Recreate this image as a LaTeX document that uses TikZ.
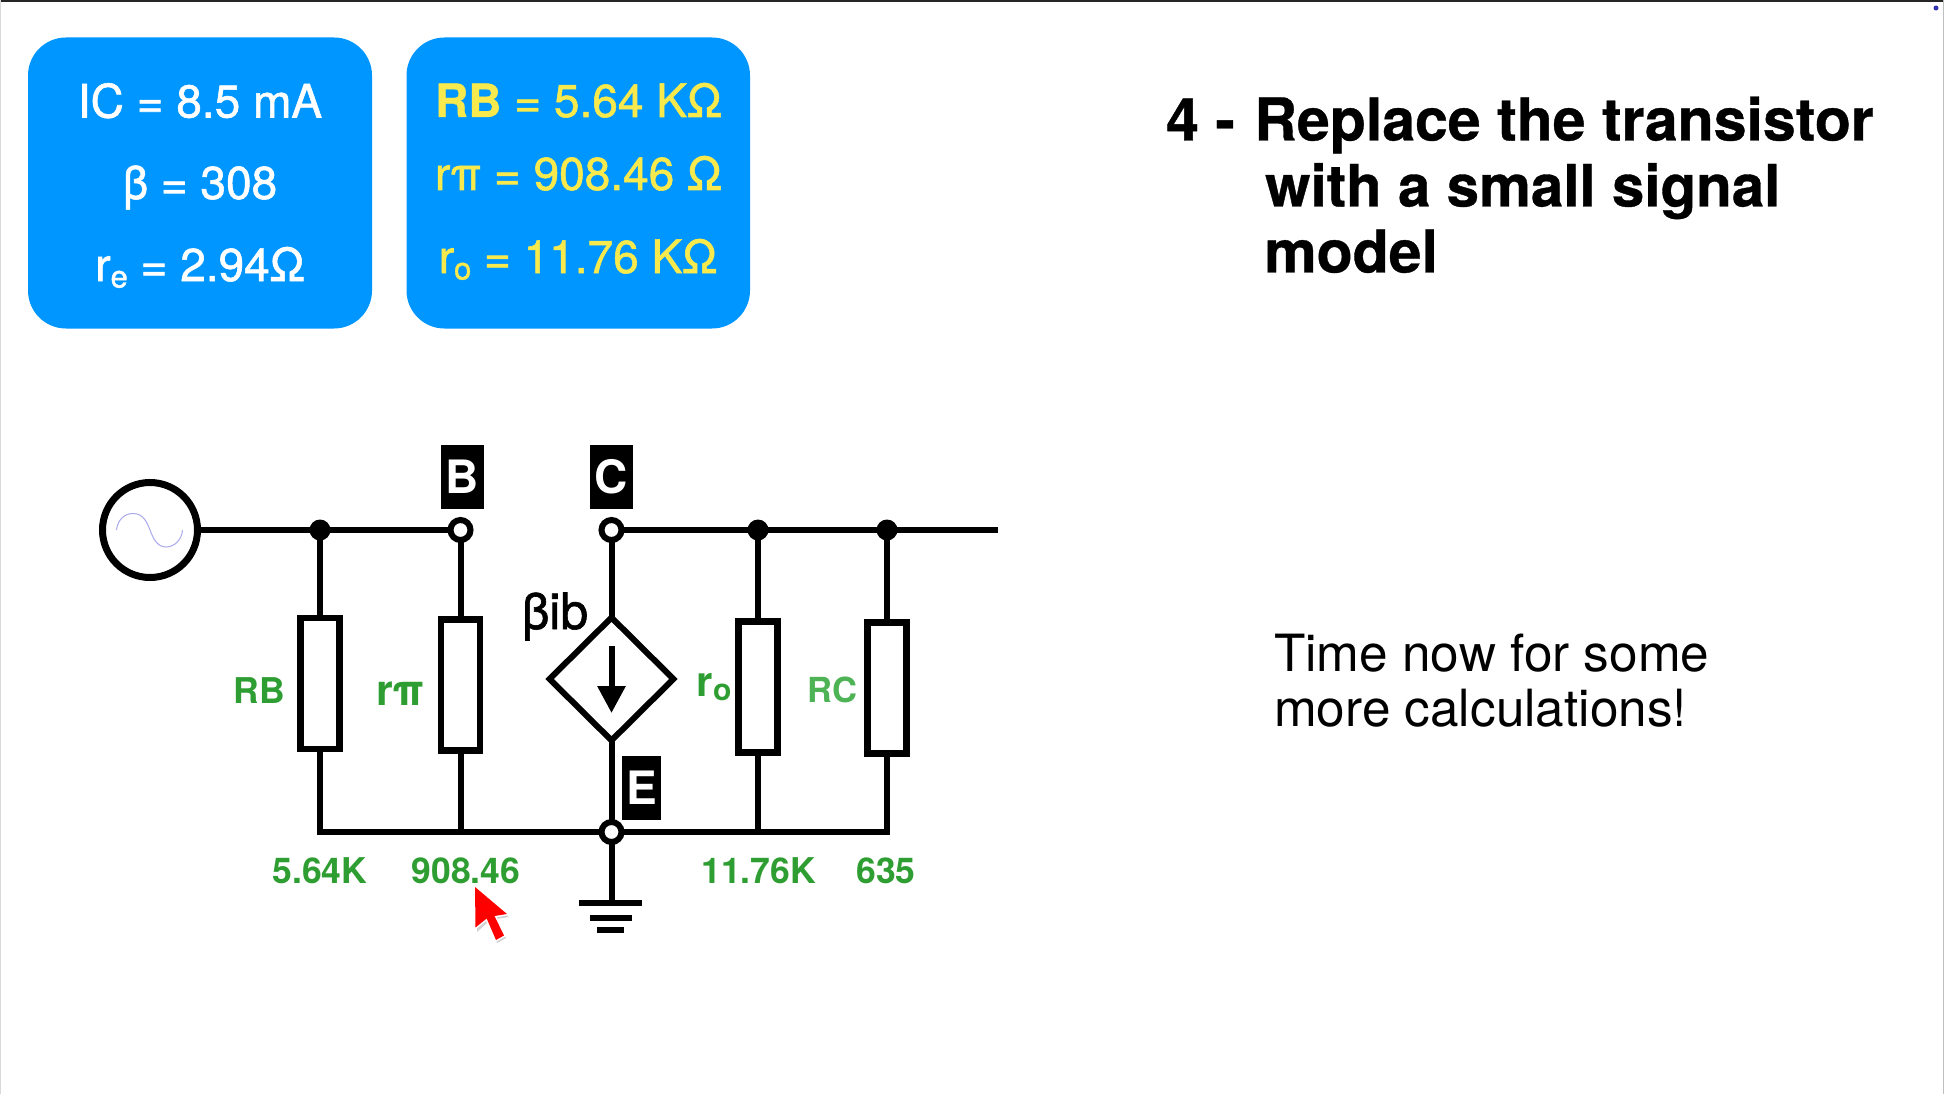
\documentclass[tikz,border=0pt]{standalone}
\usepackage{fontspec}
\setmainfont{TeX Gyre Heros}
\newfontfamily\medfont[FakeBold=1.2]{TeX Gyre Heros}
\newfontfamily\heavyfont[FakeBold=0.6]{TeX Gyre Heros Bold}
\usetikzlibrary{shapes.geometric,arrows.meta}
\newcommand{\fsz}[1]{\fontsize{#1}{#1}\selectfont}
\newcommand{\lowsub}[1]{\raisebox{-0.14em}{\fsz{31}#1}}
\definecolor{panelblue}{HTML}{0096FF}
\definecolor{panelyellow}{HTML}{F8EA4C}
\definecolor{labgreen}{HTML}{2F9E32}
\definecolor{lightgreen}{HTML}{4DB355}
\definecolor{sinecol}{HTML}{A9A9EC}
\tikzset{
  wire/.style={line width=6pt,draw=black},
  panel/.style={fill=panelblue,draw=none,rounded corners=38pt},
  paneltext/.style={text=white,font=\medfont\fsz{46},anchor=base,inner sep=0pt},
  yellowtext/.style={text=panelyellow,font=\medfont\fsz{46},anchor=base,inner sep=0pt},
  resistor/.style={draw=black,fill=white,line width=6.5pt,rectangle,inner sep=0pt,outer sep=-1pt,minimum width=39pt,minimum height=131pt},
  dotj/.style={circle,fill=black,inner sep=0pt,outer sep=-1.5pt,minimum size=21pt},
  term/.style={circle,draw=black,fill=white,line width=6pt,inner sep=0pt,outer sep=-1pt,minimum size=20pt},
  tag/.style={fill=black,text=white,inner sep=0pt,font=\fsz{46}\bfseries,align=center},
  vlabel/.style={text=labgreen,font=\fsz{35.5}\bfseries,anchor=base,inner sep=0pt},
  title/.style={font=\heavyfont\fsz{59},anchor=base west,inner sep=0pt},
  body/.style={font=\fsz{51.3},anchor=base west,inner sep=0pt},
  plate/.style={line width=6.5pt,draw=black},
}
\begin{document}
\begin{tikzpicture}[x=1pt,y=-1pt]
\useasboundingbox (0,0) rectangle (1944,1094);
\fill[white] (0,0) rectangle (1944,1094);
% window edges
\fill[black!85] (0,0) rectangle (1944,2);
\fill[black!15] (0,0) rectangle (1.2,1094);
\fill[black!25] (1942.5,0) rectangle (1944,1094);
\fill[blue!60!black!80] (1936,8) circle (2.5);
% panels
\fill[panel] (28,37.5) rectangle (372,328.5);
\fill[panel] (406.5,37.5) rectangle (750,328.5);
\node[paneltext] (ic) at (200,117.5) {IC = 8.5 mA};
\node[paneltext] (beta) at (200,199) {β = 308};
\node[paneltext] (re) at (200,281) {r\lowsub{e} = 2.94Ω};
\node[yellowtext] (rbv) at (578.5,117) {{\heavyfont RB} = 5.64 KΩ};
\node[yellowtext] (rpiv) at (578.5,190) {rπ = 908.46 Ω};
\node[yellowtext] (rov) at (578,273) {r\lowsub{o} = 11.76 KΩ};
% title
\node[title] (t1) at (1166,140.5) {4 - \hspace{3pt}Replace the transistor};
\node[title,font=\heavyfont\fsz{58.3}] (t2) at (1265,206.5) {with a small signal};
\node[title] (t3) at (1264,272.5) {model};
\node[body] (b1) at (1274,671) {Time now for some};
\node[body] (b2) at (1274,726) {more calculations!};
% source
\node[circle,draw=black,line width=7pt,fill=white,minimum size=95pt,inner sep=0pt,outer sep=-1pt] (src) at (150,530) {};
\draw[sinecol,line width=1pt] (116.4,530) .. controls (118,519) and (125,513.5) .. (133,513.5)
  .. controls (144,513.5) and (147,523) .. (150,530)
  .. controls (153,538) and (157,547) .. (166,547)
  .. controls (175,547) and (182,539) .. (182.5,530);
% nodes
\node[dotj] (jb) at (320,530) {};
\node[term] (tb) at (460.5,530) {};
\node[term] (tc) at (611.5,530) {};
\node[dotj] (jo) at (758,530) {};
\node[dotj] (jc) at (887,530) {};
\coordinate (out) at (998,530);
\node[resistor] (rb) at (320,683.5) {};
\node[resistor] (rpi) at (460.5,685) {};
\node[resistor] (ro) at (758,687) {};
\node[resistor] (rc) at (887,688) {};
\node[diamond,draw=black,fill=white,line width=6pt,inner sep=0pt,outer sep=-1pt,minimum width=123pt,minimum height=122pt,aspect=1] (ds) at (611.5,679) {};
\node[term] (te) at (611.5,832) {};
\coordinate (bl) at (320,832);
\coordinate (bp) at (460.5,832);
\coordinate (bo) at (758,832);
\coordinate (br) at (889.5,832);
\coordinate (bc) at (887,832);
\coordinate (gs) at (611.5,903);
% wires
\draw[wire] (src) -- (jb);
\draw[wire] (jb) -- (tb);
\draw[wire] (tc) -- (jo);
\draw[wire] (jo) -- (jc);
\draw[wire] (jc) -- (out);
\draw[wire] (jb) -- (rb);
\draw[wire] (tb) -- (rpi);
\draw[wire] (tc) -- (ds);
\draw[wire] (jo) -- (ro);
\draw[wire] (jc) -- (rc);
\draw[wire] (ds) -- (te);
\draw[wire] (rb) -- (bl) -- (te);
\draw[wire] (rpi) -- (bp);
\draw[wire] (te) -- (br);
\draw[wire] (ro) -- (bo);
\draw[wire] (rc) -- (bc);
\draw[wire] (te) -- (gs);
% ground
\coordinate (g1l) at (579,903); \coordinate (g1r) at (642,903);
\coordinate (g2l) at (590,918); \coordinate (g2r) at (632,918);
\coordinate (g3l) at (597,930); \coordinate (g3r) at (624,930);
\draw[plate] (g1l) -- (g1r);
\draw[plate] (g2l) -- (g2r);
\draw[plate] (g3l) -- (g3r);
% current arrow inside diamond
\coordinate (as) at (611.5,645.5);
\coordinate (ae) at (611.5,713);
\draw[line width=6pt,-{Triangle[length=27pt,width=27pt]}] (as) -- (ae);
% tags
\node[tag,minimum width=43pt,minimum height=64pt] (tagb) at (462.5,477) {B};
\node[tag,minimum width=43pt,minimum height=64pt] (tagc) at (611.5,477) {C};
\node[tag,minimum width=39pt,minimum height=64pt] (tage) at (641.5,788) {E};
% labels
\node[anchor=base,inner sep=0pt,font=\medfont\fsz{50}] (bib) at (555,629) {βib};
\node[vlabel] (lrb) at (259.5,703.5) {RB};
\node[vlabel,font=\fsz{43}\bfseries] (lrpi) at (400.5,705) {rπ};
\node[vlabel,font=\fsz{42}\bfseries,anchor=base west] (lro) at (696.5,696) {r\raisebox{-0.1em}{\fsz{30}o}};
\node[vlabel,text=lightgreen,font=\fsz{34.5}\bfseries] (lrc) at (832.5,702) {RC};
\node[vlabel] (v1) at (320,883.5) {5.64K};
\node[vlabel] (v2) at (466,883.5) {908.46};
\node[vlabel] (v3) at (758.5,883.5) {11.76K};
\node[vlabel] (v4) at (886,883.5) {635};
% cursor
\fill[black!18] (477,893) -- (477,932) -- (488,922) -- (497,943) -- (506,938) -- (496,919) -- (509,917) -- cycle;
\draw[white,line width=3pt,line join=round] (475,887) -- (475.5,927.5) -- (486.7,918.5) -- (496,940) -- (504,935.5) -- (494.5,916) -- (507,914) -- cycle;
\fill[red] (475,887) -- (475.5,927.5) -- (486.7,918.5) -- (496,940) -- (504,935.5) -- (494.5,916) -- (507,914) -- cycle;
\end{tikzpicture}
\end{document}
